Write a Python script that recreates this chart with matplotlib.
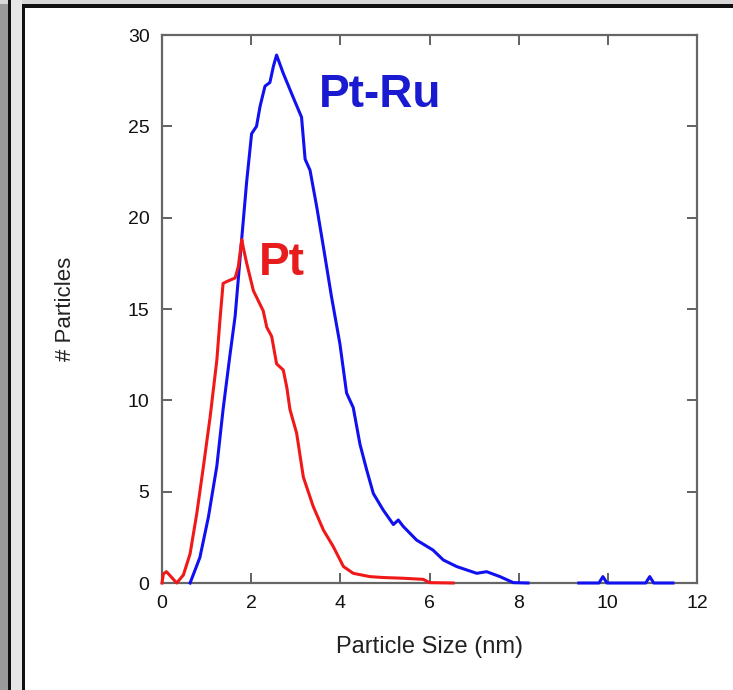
import matplotlib
matplotlib.use("Agg")
import matplotlib.pyplot as plt
from matplotlib.patches import Rectangle

plt.rcParams['font.family'] = ['Liberation Sans', 'DejaVu Sans']

# Pt-Ru series (blue)
ptru_x = [0.63, 0.85, 1.04, 1.23, 1.37, 1.52, 1.64, 1.79, 1.90, 2.01, 2.12, 2.20, 2.31,
          2.42, 2.50, 2.57, 2.72, 2.94, 3.13, 3.21, 3.32, 3.47, 3.62, 3.80, 3.99, 4.14,
          4.29, 4.44, 4.59, 4.74, 4.96, 5.19, 5.30, 5.41, 5.71, 6.08, 6.31, 6.61, 7.06,
          7.28, 7.58, 7.88, 8.21]
ptru_y = [0.0, 1.4, 3.6, 6.4, 9.5, 12.4, 14.6, 18.9, 22.0, 24.6, 25.0, 26.1, 27.2,
          27.4, 28.3, 28.9, 27.9, 26.6, 25.5, 23.2, 22.6, 20.6, 18.4, 15.7, 13.1, 10.4,
          9.6, 7.6, 6.2, 4.9, 4.0, 3.2, 3.45, 3.1, 2.35, 1.8, 1.26, 0.9, 0.53,
          0.62, 0.35, 0.02, 0.0]
# Pt-Ru tail segment
ptru_tail_x = [9.35, 9.8, 9.89, 9.98, 10.85, 10.94, 11.03, 11.46]
ptru_tail_y = [0.0, 0.0, 0.35, 0.0, 0.0, 0.35, 0.0, 0.0]

# Pt series (red)
pt_x = [0.0, 0.03, 0.10, 0.33, 0.48, 0.63, 0.78, 0.93, 1.08, 1.23, 1.30, 1.37, 1.45,
        1.64, 1.71, 1.79, 1.82, 1.90, 2.05, 2.27, 2.35, 2.46, 2.57, 2.72, 2.80, 2.87,
        3.02, 3.17, 3.39, 3.62, 3.84, 4.07, 4.29, 4.66, 4.96, 5.41, 5.86, 6.00, 6.53]
pt_y = [0.0, 0.5, 0.62, 0.0, 0.44, 1.6, 3.8, 6.4, 9.1, 12.2, 14.4, 16.4, 16.5,
        16.7, 17.3, 18.8, 18.4, 17.5, 16.0, 14.9, 14.0, 13.5, 12.0, 11.66, 10.7, 9.5,
        8.2, 5.8, 4.2, 2.9, 2.0, 0.9, 0.53, 0.35, 0.3, 0.26, 0.2, 0.02, 0.0]

x_ticks = [0, 2, 4, 6, 8, 10, 12]
y_ticks = [0, 5, 10, 15, 20, 25, 30]

W, H = 733, 690
fig = plt.figure(figsize=(W / 100, H / 100), dpi=100)
fig.patch.set_facecolor('white')

def px_rect(x0, y0, w, h, color):
    fig.patches.append(Rectangle((x0 / W, 1 - (y0 + h) / H), w / W, h / H,
                                 transform=fig.transFigure, facecolor=color,
                                 edgecolor='none', zorder=0))

# decorative page border
px_rect(0, 0, 9, H, '#9a9a9a')
px_rect(0, 0, W, 4, '#d8d8d8')
px_rect(8, 0, 3, H, '#111111')
px_rect(11, 0, 11, H, '#e6e6e6')
px_rect(22, 4, W - 22, 4, '#111111')
px_rect(22, 4, 3, H - 4, '#111111')

ax = fig.add_axes([162 / W, 1 - 583 / H, 535 / W, 548 / H])
ax.set_facecolor('white')

ax.plot(ptru_x, ptru_y, color='#1010f0', lw=2.2, zorder=3, clip_on=False)
ax.plot(ptru_tail_x, ptru_tail_y, color='#1010f0', lw=2.2, zorder=3, clip_on=False)
ax.plot(pt_x, pt_y, color='#f01818', lw=2.2, zorder=3, clip_on=False)

ax.set_xlim(0, 12)
ax.set_ylim(0, 30)
ax.set_xticks(x_ticks)
ax.set_yticks(y_ticks)
ax.tick_params(direction='in', length=7, width=1.3, colors='#555555',
               top=True, right=True, labelsize=14, pad=9, labelcolor='#111111')
for s in ax.spines.values():
    s.set_color('#666666')
    s.set_linewidth(1.6)
    s.set_zorder(2)

ax.set_xlabel('Particle Size (nm)', fontsize=17, color='#222222', labelpad=17)
ax.set_ylabel('# Particles', fontsize=16, color='#222222', labelpad=37)

ax.text(4.89, 26.7, 'Pt-Ru', color='#1a1ad0', fontsize=33, fontweight='bold',
        ha='center', va='center')
ax.text(2.69, 17.5, 'Pt', color='#e81c1c', fontsize=33, fontweight='bold',
        ha='center', va='center')

fig.savefig('out.png', dpi=100)
